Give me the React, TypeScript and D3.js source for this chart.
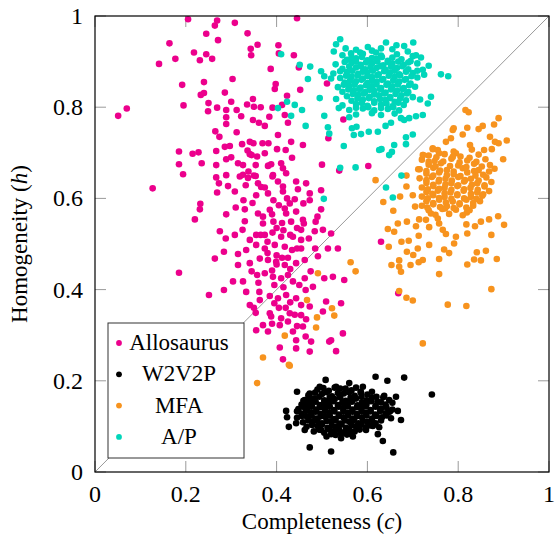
import React, { useEffect, useRef } from 'react';
import * as d3 from 'd3';

// Completeness (c) vs Homogeneity (h) for four aligners, one dot per item.
// Values as [c, h] pairs.

const allosaurus: [number, number][] = [
  [0.205, 0.993], [0.269, 0.99], [0.264, 0.979], [0.308, 0.985], [0.245, 0.961], [0.336, 0.962],
  [0.164, 0.94], [0.271, 0.947], [0.358, 0.937], [0.343, 0.928], [0.344, 0.914], [0.218, 0.92],
  [0.245, 0.916], [0.231, 0.903], [0.258, 0.906], [0.177, 0.906], [0.141, 0.895], [0.387, 0.884],
  [0.404, 0.936], [0.303, 0.862], [0.24, 0.855], [0.192, 0.849], [0.286, 0.832], [0.24, 0.831],
  [0.233, 0.827], [0.398, 0.851], [0.396, 0.84], [0.348, 0.818], [0.3, 0.812], [0.25, 0.809],
  [0.195, 0.804], [0.07, 0.797], [0.051, 0.781], [0.269, 0.799], [0.289, 0.794], [0.249, 0.791],
  [0.312, 0.794], [0.335, 0.806], [0.35, 0.801], [0.365, 0.8], [0.391, 0.799], [0.289, 0.778],
  [0.322, 0.78], [0.289, 0.763], [0.348, 0.772], [0.361, 0.766], [0.374, 0.759], [0.384, 0.779],
  [0.403, 0.739], [0.265, 0.747], [0.274, 0.735], [0.312, 0.745], [0.286, 0.713], [0.297, 0.715],
  [0.324, 0.719], [0.341, 0.724], [0.349, 0.721], [0.369, 0.721], [0.382, 0.721], [0.185, 0.703],
  [0.215, 0.698], [0.228, 0.701], [0.267, 0.704], [0.336, 0.705], [0.341, 0.697], [0.345, 0.695],
  [0.374, 0.699], [0.401, 0.708], [0.289, 0.686], [0.357, 0.692], [0.185, 0.675], [0.235, 0.677],
  [0.267, 0.673], [0.315, 0.677], [0.326, 0.673], [0.354, 0.673], [0.382, 0.672], [0.194, 0.653],
  [0.267, 0.646], [0.326, 0.652], [0.337, 0.645], [0.391, 0.648],
  [0.445, 0.995], [0.405, 0.918], [0.438, 0.914], [0.449, 0.887], [0.452, 0.838], [0.423, 0.825],
  [0.511, 0.852], [0.412, 0.805], [0.418, 0.783], [0.425, 0.766], [0.547, 0.773], [0.514, 0.732],
  [0.432, 0.724], [0.458, 0.717], [0.42, 0.706], [0.434, 0.689], [0.5, 0.674], [0.538, 0.661],
  [0.602, 0.671], [0.388, 0.675], [0.41, 0.677], [0.414, 0.666], [0.421, 0.655], [0.392, 0.651],
  [0.338, 0.659], [0.381, 0.671], [0.289, 0.651], [0.319, 0.648], [0.354, 0.649], [0.273, 0.633],
  [0.332, 0.629], [0.359, 0.633], [0.374, 0.624], [0.403, 0.637], [0.414, 0.626], [0.443, 0.637],
  [0.465, 0.633], [0.447, 0.62], [0.127, 0.622], [0.269, 0.613], [0.293, 0.627], [0.308, 0.615],
  [0.327, 0.596], [0.355, 0.607], [0.381, 0.611], [0.393, 0.596], [0.414, 0.615], [0.423, 0.6],
  [0.429, 0.589], [0.473, 0.611], [0.473, 0.596], [0.498, 0.618], [0.459, 0.589], [0.232, 0.588],
  [0.231, 0.576], [0.22, 0.554], [0.289, 0.565], [0.33, 0.576], [0.359, 0.567], [0.385, 0.575],
  [0.418, 0.578], [0.421, 0.567], [0.443, 0.571], [0.498, 0.576], [0.37, 0.545], [0.393, 0.549],
  [0.412, 0.546], [0.432, 0.549], [0.458, 0.553], [0.486, 0.549], [0.502, 0.531], [0.52, 0.523],
  [0.484, 0.528], [0.454, 0.531], [0.275, 0.528], [0.288, 0.512], [0.308, 0.52], [0.325, 0.531],
  [0.341, 0.509], [0.355, 0.52], [0.374, 0.52], [0.391, 0.525], [0.41, 0.516], [0.436, 0.516],
  [0.454, 0.509], [0.471, 0.512], [0.284, 0.483], [0.264, 0.468], [0.315, 0.478], [0.333, 0.487],
  [0.355, 0.498], [0.374, 0.49], [0.396, 0.498], [0.418, 0.494], [0.434, 0.487], [0.454, 0.49],
  [0.513, 0.49], [0.535, 0.49], [0.491, 0.473], [0.315, 0.454], [0.341, 0.458], [0.363, 0.468],
  [0.381, 0.465], [0.399, 0.461], [0.418, 0.454], [0.443, 0.458], [0.462, 0.465], [0.185, 0.437],
  [0.304, 0.418], [0.326, 0.418], [0.357, 0.432], [0.374, 0.436], [0.392, 0.428], [0.41, 0.425],
  [0.425, 0.432], [0.436, 0.418], [0.462, 0.425], [0.48, 0.406], [0.505, 0.425], [0.524, 0.428],
  [0.549, 0.421], [0.251, 0.388], [0.284, 0.399], [0.333, 0.395], [0.341, 0.366], [0.363, 0.377],
  [0.385, 0.386], [0.403, 0.381], [0.421, 0.388], [0.443, 0.381], [0.464, 0.399], [0.454, 0.366],
  [0.473, 0.363], [0.509, 0.374], [0.542, 0.37], [0.354, 0.349], [0.385, 0.348], [0.41, 0.337],
  [0.429, 0.348], [0.454, 0.344], [0.502, 0.352], [0.355, 0.311], [0.381, 0.308], [0.436, 0.308],
  [0.458, 0.319], [0.464, 0.297], [0.443, 0.289], [0.476, 0.286], [0.52, 0.289], [0.546, 0.304],
  [0.37, 0.322], [0.388, 0.341], [0.407, 0.322], [0.407, 0.273], [0.414, 0.247], [0.443, 0.271],
  [0.473, 0.264], [0.531, 0.265], [0.516, 0.286], [0.63, 0.505], [0.668, 0.392],
  [0.395, 0.41], [0.415, 0.405], [0.43, 0.372], [0.405, 0.36], [0.39, 0.442], [0.412, 0.47],
  [0.43, 0.445], [0.38, 0.505], [0.4, 0.535], [0.445, 0.535], [0.362, 0.395], [0.37, 0.56],
  [0.347, 0.59], [0.405, 0.585], [0.44, 0.598], [0.366, 0.625], [0.35, 0.36], [0.49, 0.56],
  [0.4, 0.455], [0.425, 0.47], [0.445, 0.49], [0.38, 0.48], [0.395, 0.37], [0.42, 0.36],
  [0.44, 0.345], [0.39, 0.325], [0.425, 0.33], [0.445, 0.32], [0.465, 0.335], [0.36, 0.415],
  [0.345, 0.44], [0.45, 0.41], [0.475, 0.44], [0.485, 0.49], [0.46, 0.545], [0.33, 0.55],
  [0.31, 0.58], [0.35, 0.65], [0.3, 0.69], [0.43, 0.52], [0.415, 0.53], [0.39, 0.565],
  [0.365, 0.52], [0.4, 0.475],
];

const w2v2p: [number, number][] = [
  [0.618, 0.209], [0.644, 0.2], [0.681, 0.207], [0.742, 0.17], [0.445, 0.176], [0.473, 0.172],
  [0.508, 0.202], [0.421, 0.134], [0.423, 0.12], [0.427, 0.099], [0.443, 0.107], [0.473, 0.054],
  [0.52, 0.045], [0.657, 0.043], [0.634, 0.068], [0.623, 0.083], [0.663, 0.165], [0.637, 0.167],
  [0.674, 0.114], [0.667, 0.134], [0.648, 0.132], [0.626, 0.098], [0.459, 0.156], [0.462, 0.092],
  [0.498, 0.092], [0.542, 0.074], [0.568, 0.078], [0.597, 0.092], [0.56, 0.195], [0.59, 0.187],
  [0.531, 0.187], [0.495, 0.187],
  [0.49, 0.181], [0.515, 0.178], [0.54, 0.183], [0.565, 0.179], [0.585, 0.176],
  [0.47, 0.168], [0.5, 0.171], [0.522, 0.166], [0.548, 0.172], [0.572, 0.167], [0.6, 0.17], [0.62, 0.165],
  [0.462, 0.158], [0.482, 0.161], [0.505, 0.157], [0.528, 0.16], [0.552, 0.156], [0.575, 0.161],
  [0.598, 0.157], [0.622, 0.154], [0.648, 0.158],
  [0.455, 0.148], [0.475, 0.151], [0.495, 0.147], [0.515, 0.152], [0.535, 0.147], [0.555, 0.151],
  [0.578, 0.146], [0.598, 0.149], [0.618, 0.145], [0.64, 0.148],
  [0.448, 0.138], [0.468, 0.141], [0.488, 0.137], [0.507, 0.141], [0.527, 0.136], [0.547, 0.14],
  [0.567, 0.137], [0.587, 0.14], [0.607, 0.136], [0.63, 0.139], [0.655, 0.137],
  [0.455, 0.128], [0.476, 0.131], [0.497, 0.127], [0.517, 0.131], [0.537, 0.126], [0.557, 0.13],
  [0.577, 0.127], [0.597, 0.13], [0.617, 0.126], [0.64, 0.129],
  [0.445, 0.119], [0.467, 0.121], [0.487, 0.117], [0.507, 0.121], [0.527, 0.116], [0.547, 0.12],
  [0.567, 0.117], [0.588, 0.12], [0.61, 0.117], [0.632, 0.12], [0.652, 0.118],
  [0.458, 0.109], [0.48, 0.111], [0.5, 0.107], [0.52, 0.111], [0.54, 0.106], [0.56, 0.11],
  [0.58, 0.107], [0.6, 0.11], [0.618, 0.107],
  [0.466, 0.099], [0.49, 0.101], [0.512, 0.097], [0.533, 0.1], [0.553, 0.097], [0.575, 0.1],
  [0.596, 0.098], [0.612, 0.101],
  [0.482, 0.089], [0.505, 0.086], [0.527, 0.09], [0.548, 0.087], [0.572, 0.089],
  [0.51, 0.078], [0.53, 0.081], [0.555, 0.082],
  [0.503, 0.184], [0.528, 0.185], [0.552, 0.183], [0.575, 0.185],
  [0.485, 0.174], [0.51, 0.175], [0.535, 0.173], [0.56, 0.175], [0.586, 0.174], [0.61, 0.176],
  [0.472, 0.163], [0.494, 0.165], [0.517, 0.163], [0.54, 0.164], [0.563, 0.163], [0.587, 0.165],
  [0.61, 0.163], [0.635, 0.164],
  [0.465, 0.153], [0.486, 0.154], [0.505, 0.152], [0.525, 0.155], [0.545, 0.153], [0.566, 0.154],
  [0.588, 0.153], [0.608, 0.155], [0.63, 0.153], [0.655, 0.152],
  [0.458, 0.143], [0.478, 0.144], [0.498, 0.142], [0.517, 0.144], [0.537, 0.143], [0.557, 0.144],
  [0.577, 0.142], [0.597, 0.144], [0.618, 0.143], [0.642, 0.142],
  [0.445, 0.133], [0.465, 0.134], [0.486, 0.132], [0.507, 0.134], [0.527, 0.133], [0.547, 0.134],
  [0.567, 0.132], [0.587, 0.134], [0.607, 0.133], [0.628, 0.134], [0.65, 0.133],
  [0.456, 0.123], [0.477, 0.124], [0.497, 0.122], [0.517, 0.124], [0.537, 0.123], [0.557, 0.124],
  [0.577, 0.122], [0.598, 0.124], [0.62, 0.123], [0.642, 0.124],
  [0.47, 0.113], [0.49, 0.114], [0.51, 0.112], [0.53, 0.114], [0.55, 0.113], [0.57, 0.114],
  [0.59, 0.112], [0.61, 0.114], [0.63, 0.113],
  [0.478, 0.103], [0.5, 0.104], [0.522, 0.102], [0.543, 0.104], [0.565, 0.103], [0.586, 0.104],
  [0.605, 0.102],
  [0.493, 0.093], [0.516, 0.094], [0.538, 0.092], [0.56, 0.094], [0.583, 0.093],
  [0.52, 0.083], [0.542, 0.084], [0.565, 0.083],
];

const mfa: [number, number][] = [
  [0.823, 0.789], [0.889, 0.776], [0.879, 0.762], [0.854, 0.759], [0.845, 0.752], [0.82, 0.755],
  [0.788, 0.75], [0.81, 0.74], [0.87, 0.735], [0.881, 0.724], [0.889, 0.721], [0.907, 0.727],
  [0.784, 0.732], [0.773, 0.724], [0.826, 0.717], [0.744, 0.708], [0.758, 0.699], [0.795, 0.699],
  [0.857, 0.706], [0.874, 0.708], [0.899, 0.686], [0.722, 0.695], [0.712, 0.664], [0.686, 0.65],
  [0.686, 0.626], [0.672, 0.604], [0.635, 0.592], [0.7, 0.607], [0.705, 0.582], [0.657, 0.573],
  [0.714, 0.554], [0.687, 0.549], [0.667, 0.545], [0.645, 0.533], [0.707, 0.539], [0.659, 0.527],
  [0.713, 0.518], [0.736, 0.537], [0.758, 0.545], [0.766, 0.531], [0.773, 0.522], [0.795, 0.516],
  [0.791, 0.501], [0.818, 0.543], [0.837, 0.539], [0.85, 0.549], [0.868, 0.554], [0.888, 0.561],
  [0.901, 0.542], [0.873, 0.52], [0.82, 0.523], [0.647, 0.494], [0.675, 0.505], [0.691, 0.507],
  [0.736, 0.498], [0.769, 0.488], [0.78, 0.48], [0.687, 0.483], [0.701, 0.476], [0.711, 0.49],
  [0.758, 0.467], [0.722, 0.465], [0.713, 0.46], [0.67, 0.464], [0.653, 0.454], [0.67, 0.45],
  [0.674, 0.439], [0.695, 0.454], [0.82, 0.455], [0.835, 0.466], [0.841, 0.482], [0.861, 0.485],
  [0.85, 0.464], [0.885, 0.467], [0.758, 0.434], [0.873, 0.401], [0.67, 0.397], [0.7, 0.376],
  [0.777, 0.367], [0.818, 0.364], [0.819, 0.569], [0.795, 0.575], [0.771, 0.578], [0.755, 0.556],
  [0.729, 0.553], [0.74, 0.567], [0.723, 0.695], [0.744, 0.71], [0.79, 0.754], [0.816, 0.794],
  [0.37, 0.251], [0.429, 0.233], [0.357, 0.195], [0.722, 0.282], [0.418, 0.299], [0.427, 0.235],
  [0.491, 0.436], [0.467, 0.377], [0.489, 0.339], [0.487, 0.317], [0.522, 0.359], [0.527, 0.343],
  [0.618, 0.64], [0.563, 0.46], [0.574, 0.44], [0.686, 0.382],
  [0.755, 0.706], [0.79, 0.703], [0.83, 0.707],
  [0.735, 0.694], [0.77, 0.697], [0.805, 0.692], [0.845, 0.696],
  [0.72, 0.685], [0.748, 0.682], [0.785, 0.687], [0.82, 0.683], [0.86, 0.686],
  [0.735, 0.674], [0.762, 0.677], [0.8, 0.672], [0.835, 0.676], [0.87, 0.673],
  [0.715, 0.664], [0.745, 0.667], [0.775, 0.662], [0.81, 0.666], [0.845, 0.662], [0.88, 0.665],
  [0.73, 0.654], [0.758, 0.657], [0.79, 0.653], [0.82, 0.657], [0.855, 0.652],
  [0.715, 0.644], [0.742, 0.647], [0.772, 0.643], [0.8, 0.647], [0.828, 0.643], [0.862, 0.646],
  [0.73, 0.634], [0.757, 0.637], [0.785, 0.633], [0.813, 0.637], [0.842, 0.633], [0.873, 0.636],
  [0.72, 0.624], [0.745, 0.627], [0.77, 0.623], [0.798, 0.627], [0.827, 0.623], [0.858, 0.626],
  [0.73, 0.614], [0.755, 0.617], [0.783, 0.613], [0.812, 0.617], [0.842, 0.613], [0.868, 0.616],
  [0.72, 0.604], [0.745, 0.607], [0.77, 0.603], [0.798, 0.607], [0.828, 0.603], [0.853, 0.606],
  [0.73, 0.594], [0.758, 0.597], [0.788, 0.593], [0.818, 0.597], [0.848, 0.594],
  [0.72, 0.584], [0.745, 0.587], [0.775, 0.583], [0.803, 0.587], [0.833, 0.584],
  [0.735, 0.574], [0.765, 0.577], [0.825, 0.574], [0.75, 0.564], [0.78, 0.566], [0.81, 0.563],
  [0.752, 0.69], [0.788, 0.691], [0.825, 0.689],
  [0.735, 0.68], [0.767, 0.681], [0.803, 0.679], [0.84, 0.68],
  [0.75, 0.67], [0.782, 0.671], [0.818, 0.669], [0.852, 0.67],
  [0.73, 0.66], [0.76, 0.661], [0.79, 0.659], [0.835, 0.66], [0.868, 0.659],
  [0.745, 0.65], [0.775, 0.651], [0.805, 0.649], [0.838, 0.65],
  [0.73, 0.64], [0.758, 0.641], [0.786, 0.639], [0.815, 0.64], [0.845, 0.639],
  [0.745, 0.63], [0.772, 0.631], [0.8, 0.629], [0.83, 0.63], [0.858, 0.629],
  [0.733, 0.62], [0.758, 0.621], [0.785, 0.619], [0.813, 0.62], [0.843, 0.619],
  [0.743, 0.61], [0.77, 0.611], [0.798, 0.609], [0.828, 0.61], [0.855, 0.609],
  [0.733, 0.6], [0.758, 0.601], [0.785, 0.599], [0.813, 0.6], [0.84, 0.599],
  [0.745, 0.59], [0.773, 0.591], [0.803, 0.589], [0.833, 0.59],
  [0.732, 0.58], [0.76, 0.581], [0.79, 0.579], [0.818, 0.58],
];

const ap: [number, number][] = [
  [0.54, 0.949], [0.531, 0.938], [0.526, 0.922], [0.552, 0.929], [0.564, 0.918], [0.584, 0.92],
  [0.601, 0.932], [0.619, 0.92], [0.63, 0.929], [0.641, 0.942], [0.664, 0.936], [0.681, 0.934],
  [0.701, 0.942], [0.689, 0.922], [0.707, 0.914], [0.718, 0.909], [0.735, 0.891], [0.722, 0.882],
  [0.762, 0.872], [0.778, 0.868], [0.74, 0.823], [0.733, 0.808], [0.716, 0.817], [0.722, 0.783],
  [0.707, 0.78], [0.692, 0.776], [0.681, 0.772], [0.674, 0.776], [0.7, 0.74], [0.685, 0.734],
  [0.685, 0.719], [0.659, 0.717], [0.654, 0.702], [0.648, 0.695], [0.631, 0.708], [0.574, 0.668],
  [0.54, 0.667], [0.548, 0.715], [0.516, 0.742], [0.513, 0.756], [0.505, 0.781], [0.495, 0.82],
  [0.469, 0.862], [0.474, 0.889], [0.451, 0.893], [0.41, 0.916], [0.44, 0.805], [0.456, 0.794],
  [0.423, 0.812], [0.403, 0.798], [0.432, 0.781], [0.464, 0.759], [0.498, 0.879], [0.505, 0.868],
  [0.52, 0.863], [0.531, 0.818], [0.537, 0.798], [0.56, 0.778], [0.566, 0.754], [0.57, 0.739],
  [0.586, 0.741], [0.603, 0.746], [0.623, 0.746], [0.64, 0.759], [0.652, 0.766], [0.576, 0.757],
  [0.675, 0.65], [0.641, 0.624], [0.656, 0.602], [0.626, 0.706], [0.504, 0.599],
  [0.575, 0.926], [0.61, 0.924], [0.655, 0.927],
  [0.545, 0.914], [0.59, 0.917], [0.63, 0.913], [0.665, 0.916], [0.7, 0.912],
  [0.555, 0.904], [0.575, 0.907], [0.6, 0.903], [0.62, 0.906], [0.645, 0.902], [0.675, 0.905], [0.695, 0.901],
  [0.53, 0.894], [0.565, 0.897], [0.585, 0.893], [0.61, 0.896], [0.635, 0.892], [0.655, 0.896],
  [0.68, 0.893], [0.71, 0.896],
  [0.545, 0.884], [0.575, 0.887], [0.595, 0.883], [0.62, 0.886], [0.64, 0.882], [0.665, 0.886], [0.69, 0.883],
  [0.525, 0.874], [0.555, 0.877], [0.58, 0.873], [0.6, 0.876], [0.625, 0.872], [0.65, 0.876],
  [0.67, 0.872], [0.7, 0.875], [0.725, 0.871],
  [0.54, 0.864], [0.565, 0.867], [0.59, 0.863], [0.61, 0.866], [0.635, 0.862], [0.66, 0.866],
  [0.685, 0.862], [0.71, 0.865],
  [0.55, 0.854], [0.575, 0.857], [0.6, 0.853], [0.62, 0.856], [0.645, 0.852], [0.67, 0.856], [0.695, 0.852],
  [0.535, 0.844], [0.56, 0.847], [0.585, 0.843], [0.61, 0.846], [0.63, 0.842], [0.655, 0.846],
  [0.68, 0.842], [0.705, 0.845],
  [0.545, 0.834], [0.57, 0.837], [0.595, 0.833], [0.615, 0.836], [0.64, 0.832], [0.665, 0.836], [0.69, 0.833],
  [0.555, 0.824], [0.58, 0.827], [0.605, 0.823], [0.625, 0.826], [0.65, 0.822], [0.675, 0.826], [0.7, 0.822],
  [0.565, 0.814], [0.59, 0.817], [0.615, 0.813], [0.64, 0.816], [0.66, 0.812], [0.685, 0.815],
  [0.545, 0.804], [0.575, 0.807], [0.6, 0.803], [0.63, 0.806], [0.655, 0.802], [0.68, 0.805],
  [0.56, 0.794], [0.59, 0.797], [0.615, 0.793], [0.645, 0.796], [0.67, 0.793],
  [0.575, 0.784], [0.61, 0.787], [0.63, 0.783], [0.66, 0.786],
  [0.565, 0.909], [0.588, 0.91], [0.61, 0.908], [0.632, 0.91], [0.655, 0.909],
  [0.55, 0.899], [0.575, 0.9], [0.597, 0.898], [0.622, 0.9], [0.645, 0.899], [0.668, 0.9], [0.69, 0.898],
  [0.56, 0.889], [0.585, 0.89], [0.607, 0.888], [0.63, 0.89], [0.652, 0.889], [0.677, 0.89],
  [0.54, 0.879], [0.567, 0.88], [0.59, 0.878], [0.612, 0.88], [0.637, 0.879], [0.66, 0.88],
  [0.685, 0.878], [0.71, 0.88],
  [0.553, 0.869], [0.578, 0.87], [0.6, 0.868], [0.622, 0.87], [0.647, 0.869], [0.672, 0.87], [0.697, 0.868],
  [0.562, 0.859], [0.587, 0.86], [0.61, 0.858], [0.632, 0.86], [0.657, 0.859], [0.682, 0.86],
  [0.548, 0.849], [0.572, 0.85], [0.597, 0.848], [0.62, 0.85], [0.642, 0.849], [0.667, 0.85], [0.692, 0.848],
  [0.558, 0.839], [0.582, 0.84], [0.605, 0.838], [0.628, 0.84], [0.652, 0.839], [0.677, 0.84],
  [0.568, 0.829], [0.592, 0.83], [0.615, 0.828], [0.637, 0.83], [0.662, 0.829], [0.687, 0.83],
  [0.578, 0.819], [0.603, 0.82], [0.628, 0.818], [0.65, 0.82], [0.672, 0.819],
  [0.588, 0.809], [0.615, 0.81], [0.642, 0.808], [0.668, 0.81],
  [0.575, 0.799], [0.602, 0.8], [0.63, 0.798], [0.657, 0.8],
];

const seriesNames = ['Allosaurus', 'W2V2P', 'MFA', 'A/P'];
const seriesColors = ['#EC008C', '#000000', '#F7931E', '#00D6BA'];
const seriesData = [allosaurus, w2v2p, mfa, ap];

const xTicks = [0, 0.2, 0.4, 0.6, 0.8, 1];
const yTicks = [0, 0.2, 0.4, 0.6, 0.8, 1];
const xTickLabels = ['0', '0.2', '0.4', '0.6', '0.8', '1'];
const yTickLabels = ['0', '0.2', '0.4', '0.6', '0.8', '1'];

const WIDTH = 555;
const HEIGHT = 540;
const LEFT = 95;
const RIGHT = 549;
const TOP = 16;
const BOTTOM = 472;
const TICK_LEN = 11;
const FONT =
  "'Liberation Serif', 'DejaVu Serif', 'Noto Serif', 'FreeSerif', 'Nimbus Roman', 'Times New Roman', Times, serif";

const App = () => {
  const svgRef = useRef<SVGSVGElement>(null);

  useEffect(() => {
    const svg = d3.select(svgRef.current).attr('width', WIDTH).attr('height', HEIGHT);
    svg.selectAll('*').remove();
    svg.append('rect').attr('width', WIDTH).attr('height', HEIGHT).attr('fill', 'white');

    const x = d3.scaleLinear().domain([0, 1]).range([LEFT, RIGHT]);
    const y = d3.scaleLinear().domain([0, 1]).range([BOTTOM, TOP]);

    // ticks on all four sides, pointing inward
    const ticks = svg.append('g').attr('stroke', '#9a9a9a').attr('stroke-width', 1);
    xTicks.forEach((t) => {
      ticks.append('line').attr('x1', x(t)).attr('x2', x(t)).attr('y1', BOTTOM).attr('y2', BOTTOM - TICK_LEN);
      ticks.append('line').attr('x1', x(t)).attr('x2', x(t)).attr('y1', TOP).attr('y2', TOP + TICK_LEN);
    });
    yTicks.forEach((t) => {
      ticks.append('line').attr('y1', y(t)).attr('y2', y(t)).attr('x1', LEFT).attr('x2', LEFT + TICK_LEN);
      ticks.append('line').attr('y1', y(t)).attr('y2', y(t)).attr('x1', RIGHT).attr('x2', RIGHT - TICK_LEN);
    });

    // c = h reference line
    svg
      .append('line')
      .attr('x1', x(0))
      .attr('y1', y(0))
      .attr('x2', x(1))
      .attr('y2', y(1))
      .attr('stroke', '#999')
      .attr('stroke-width', 1);

    seriesData.forEach((pts, i) => {
      svg
        .append('g')
        .selectAll('circle')
        .data(pts)
        .enter()
        .append('circle')
        .attr('cx', (d) => x(d[0]))
        .attr('cy', (d) => y(d[1]))
        .attr('r', 3.3)
        .attr('fill', seriesColors[i]);
    });

    // frame
    svg
      .append('rect')
      .attr('x', LEFT)
      .attr('y', TOP)
      .attr('width', RIGHT - LEFT)
      .attr('height', BOTTOM - TOP)
      .attr('fill', 'none')
      .attr('stroke', '#000')
      .attr('stroke-width', 1.2);

    // tick labels
    svg
      .append('g')
      .selectAll('text')
      .data(xTicks)
      .enter()
      .append('text')
      .attr('x', (d) => x(d))
      .attr('y', BOTTOM + 30)
      .attr('text-anchor', 'middle')
      .style('font-family', FONT)
      .attr('font-size', '24px')
      .text((_d, i) => xTickLabels[i]);
    svg
      .append('g')
      .selectAll('text')
      .data(yTicks)
      .enter()
      .append('text')
      .attr('x', LEFT - 12)
      .attr('y', (d) => y(d) + 8)
      .attr('text-anchor', 'end')
      .style('font-family', FONT)
      .attr('font-size', '24px')
      .text((_d, i) => yTickLabels[i]);

    // axis labels
    const xLabel = svg
      .append('text')
      .attr('x', (LEFT + RIGHT) / 2)
      .attr('y', 529)
      .attr('text-anchor', 'middle')
      .style('font-family', FONT)
      .attr('font-size', '23px');
    xLabel.append('tspan').text('Completeness (');
    xLabel.append('tspan').attr('font-style', 'italic').text('c');
    xLabel.append('tspan').text(')');

    const yLabel = svg
      .append('text')
      .attr('transform', `translate(27,${(TOP + BOTTOM) / 2}) rotate(-90)`)
      .attr('text-anchor', 'middle')
      .style('font-family', FONT)
      .attr('font-size', '23px');
    yLabel.append('tspan').text('Homogeneity (');
    yLabel.append('tspan').attr('font-style', 'italic').text('h');
    yLabel.append('tspan').text(')');

    // legend, bottom left, drawn over the diagonal
    const legend = svg.append('g');
    legend
      .append('rect')
      .attr('x', 108)
      .attr('y', 323)
      .attr('width', 136)
      .attr('height', 135)
      .attr('fill', 'white')
      .attr('stroke', '#333')
      .attr('stroke-width', 1);
    seriesNames.forEach((name, i) => {
      const cy = 343 + i * 31.3;
      legend.append('circle').attr('cx', 119).attr('cy', cy).attr('r', 2.9).attr('fill', seriesColors[i]);
      legend
        .append('text')
        .attr('x', 179)
        .attr('y', cy + 7)
        .attr('text-anchor', 'middle')
        .style('font-family', FONT)
        .attr('font-size', '23px')
        .text(name);
    });
  }, []);

  return (
    <svg ref={svgRef} style={{ position: 'absolute', left: 0, top: 0, display: 'block' }} />
  );
};

export default App;
